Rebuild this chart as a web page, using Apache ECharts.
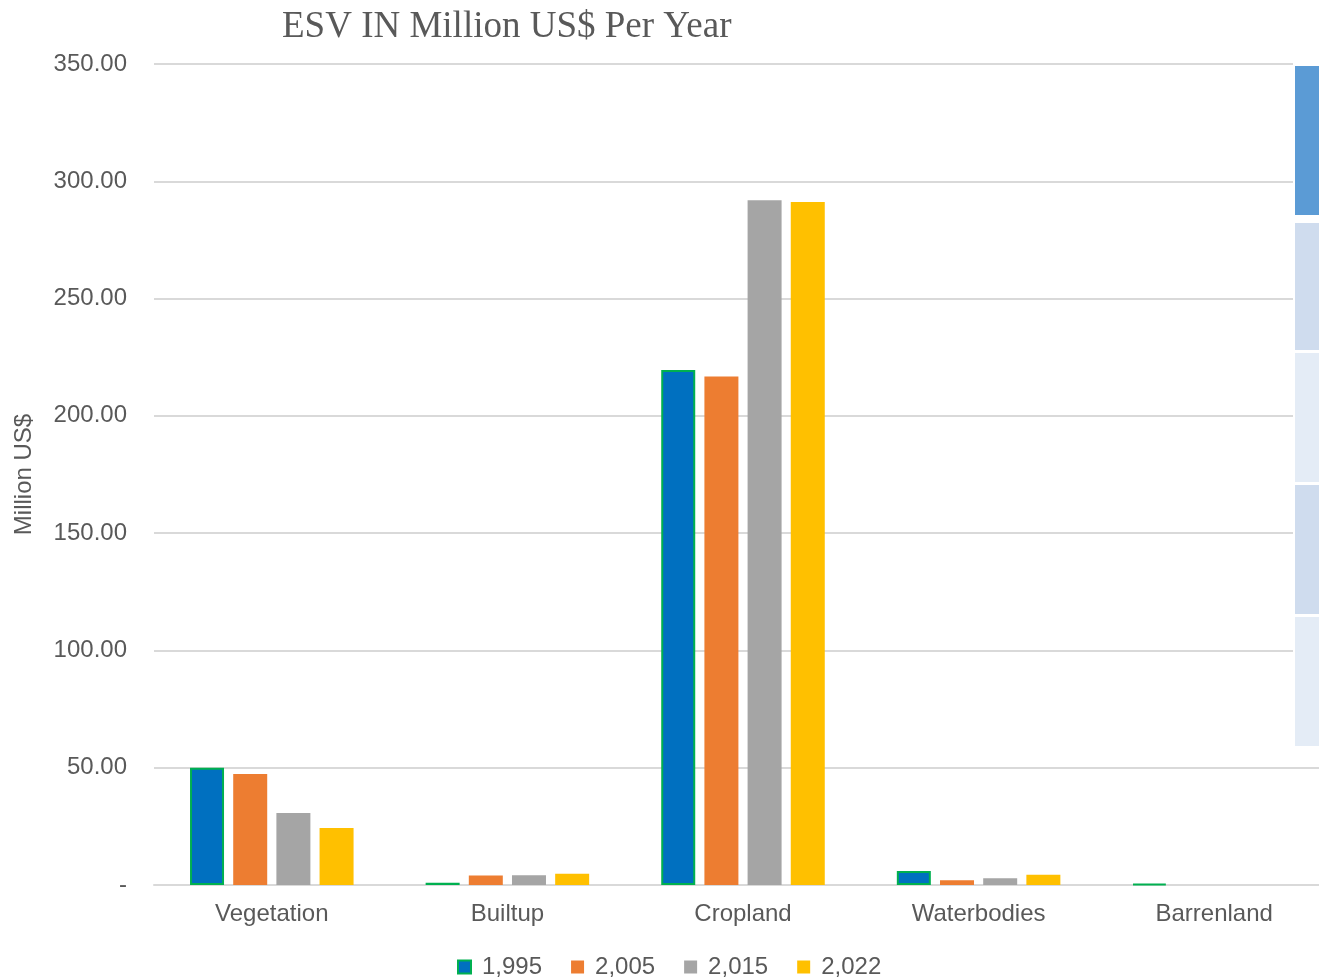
<!DOCTYPE html>
<html>
<head>
<meta charset="utf-8">
<script src="https://cdn.jsdelivr.net/npm/echarts@6/dist/echarts.min.js"></script>
<style>html,body{margin:0;padding:0;background:#fff;}#c{width:1319px;height:979px;}</style>
</head>
<body>
<div id="c"></div>
<script>
const categories = ['Vegetation', 'Builtup', 'Cropland', 'Waterbodies', 'Barrenland'];
const seriesNames = ['1,995', '2,005', '2,015', '2,022'];
const v1995 = [50.0, 1.0, 219.5, 6.0, 0.5];
const v2005 = [47.3, 4.1, 216.8, 2.0, 0];
const v2015 = [30.7, 4.2, 291.9, 2.9, 0];
const v2022 = [24.3, 4.8, 291.2, 4.4, 0];
const yTicks = { min: 0, max: 350, interval: 50 };

const colors = ['#0070C0', '#ED7D31', '#A5A5A5', '#FFC000'];
const data = [v1995, v2005, v2015, v2022];

const chart = echarts.init(document.getElementById('c'), null, { renderer: 'canvas' });
const font = 'Arial, "Liberation Sans", sans-serif';

const series = seriesNames.map((n, i) => ({
  name: n,
  type: 'bar',
  data: data[i],
  barWidth: 34,
  barGap: '27%',
  itemStyle: i === 0 ? { color: colors[i], borderColor: '#00B050', borderWidth: 2 } : { color: colors[i] },
  emphasis: { disabled: true }
}));

chart.setOption({
  animation: false,
  backgroundColor: '#fff',
  title: {
    text: 'ESV IN Million US$ Per Year',
    left: 277, top: 4,
    textStyle: { fontFamily: '"Liberation Serif", "Times New Roman", serif', fontWeight: 'normal', fontSize: 37, color: '#595959' }
  },
  legend: {
    data: seriesNames.map((n, i) => i === 0 ? { name: n, itemStyle: { color: colors[0], borderColor: '#00B050', borderWidth: 2 } } : { name: n }),
    top: 950, left: 452,
    itemWidth: 13, itemHeight: 13, itemGap: 29,
    icon: 'rect',
    textStyle: { fontFamily: font, fontSize: 24, color: '#595959', padding: [0, 0, 0, 6] }
  },
  grid: { left: 154, top: 64, width: 1178, height: 821, containLabel: false, outerBoundsMode: 'none' },
  xAxis: {
    type: 'category',
    data: categories,
    axisLine: { lineStyle: { color: '#D9D9D9', width: 2 } },
    axisTick: { show: false },
    axisLabel: { fontFamily: font, fontSize: 24, color: '#595959', margin: 17 }
  },
  yAxis: {
    type: 'value',
    min: yTicks.min, max: yTicks.max, interval: yTicks.interval,
    name: 'Million US$',
    nameLocation: 'middle',
    nameGap: 118,
    nameTextStyle: { fontFamily: font, fontSize: 24, color: '#595959' },
    axisLine: { show: false },
    axisTick: { show: false },
    splitLine: { lineStyle: { color: '#D9D9D9', width: 2 } },
    axisLabel: {
      fontFamily: font, fontSize: 24, color: '#595959', margin: 27,
      padding: [4, 0, 0, 0],
      formatter: v => v === 0 ? '-' : v.toFixed(2)
    }
  },
  series: series,
  graphic: [
    { type: 'rect', shape: { x: 1293, y: 58, width: 26, height: 692 }, style: { fill: '#fff' }, z: 100 },
    { type: 'rect', shape: { x: 1295, y: 66, width: 24, height: 149 }, style: { fill: '#5B9BD5' }, z: 101 },
    { type: 'rect', shape: { x: 1295, y: 223, width: 24, height: 127 }, style: { fill: '#CFDCEE' }, z: 101 },
    { type: 'rect', shape: { x: 1295, y: 353, width: 24, height: 129 }, style: { fill: '#E4ECF6' }, z: 101 },
    { type: 'rect', shape: { x: 1295, y: 485, width: 24, height: 129 }, style: { fill: '#CFDCEE' }, z: 101 },
    { type: 'rect', shape: { x: 1295, y: 617, width: 24, height: 129 }, style: { fill: '#E4ECF6' }, z: 101 }
  ]
});
</script>
</body>
</html>
